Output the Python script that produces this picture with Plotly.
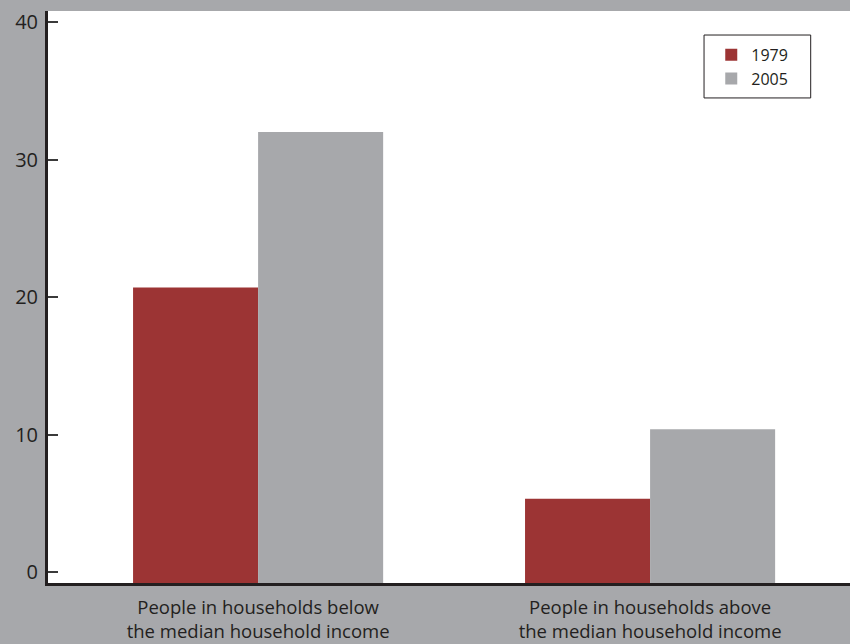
import plotly.graph_objects as go

categories = ["People in households below<br>the median household income",
              "People in households above<br>the median household income"]
series_names = ["1979", "2005"]
values_1979 = [20.7, 5.35]
values_2005 = [32.0, 10.4]
tick_vals = [0, 10, 20, 30, 40]
tick_text = ["0", "10", "20", "30", "40"]

Y_MIN = -0.77
Y_MAX = 40.8

RED = "#9c3434"
GRAY = "#a7a8ab"
INK = "#231f20"
FONT = "'Open Sans', Lato, sans-serif"

fig = go.Figure()
for name, vals, col in [(series_names[0], values_1979, RED), (series_names[1], values_2005, GRAY)]:
    fig.add_trace(go.Bar(
        name=name,
        x=list(range(len(categories))),
        y=[v - Y_MIN for v in vals],
        base=Y_MIN,
        marker=dict(color=col, line=dict(width=0)),
    ))

# legend frame
fig.add_shape(type="rect", xref="paper", yref="paper",
              x0=0.818, x1=0.951, y0=0.848, y1=0.958,
              line=dict(color=INK, width=1), fillcolor="white", layer="above")

fig.update_layout(
    width=850, height=644,
    paper_bgcolor=GRAY,
    plot_bgcolor="white",
    margin=dict(l=48, r=0, t=11, b=61, autoexpand=False),
    barmode="group",
    bargap=0.362,
    bargroupgap=0,
    font=dict(family=FONT, color=INK),
    showlegend=True,
    legend=dict(
        x=0.827, y=0.953, xanchor="left", yanchor="top",
        bgcolor="rgba(0,0,0,0)", borderwidth=0,
        font=dict(size=16, color=INK, family=FONT),
        tracegroupgap=0,
    ),
    xaxis=dict(
        range=[-0.536, 1.51],
        tickvals=[0, 1], ticktext=categories,
        tickfont=dict(size=18.5, color=INK, family=FONT),
        showline=True, linecolor=INK, linewidth=3,
        ticks="", showgrid=False, zeroline=False,
        automargin=False, ticklabelstandoff=6,
    ),
    yaxis=dict(
        range=[Y_MIN, Y_MAX],
        tickvals=tick_vals, ticktext=tick_text,
        tickfont=dict(size=20, color=INK, family=FONT),
        showline=True, linecolor=INK, linewidth=3,
        ticks="inside", ticklen=10, tickwidth=1.5, tickcolor="#3a3a3a",
        showgrid=False, zeroline=False,
        automargin=False, ticklabelstandoff=3,
    ),
)

fig.write_html("out.html", config={"displayModeBar": False},
               post_script="document.body.style.margin='0';document.body.style.overflow='hidden';")
